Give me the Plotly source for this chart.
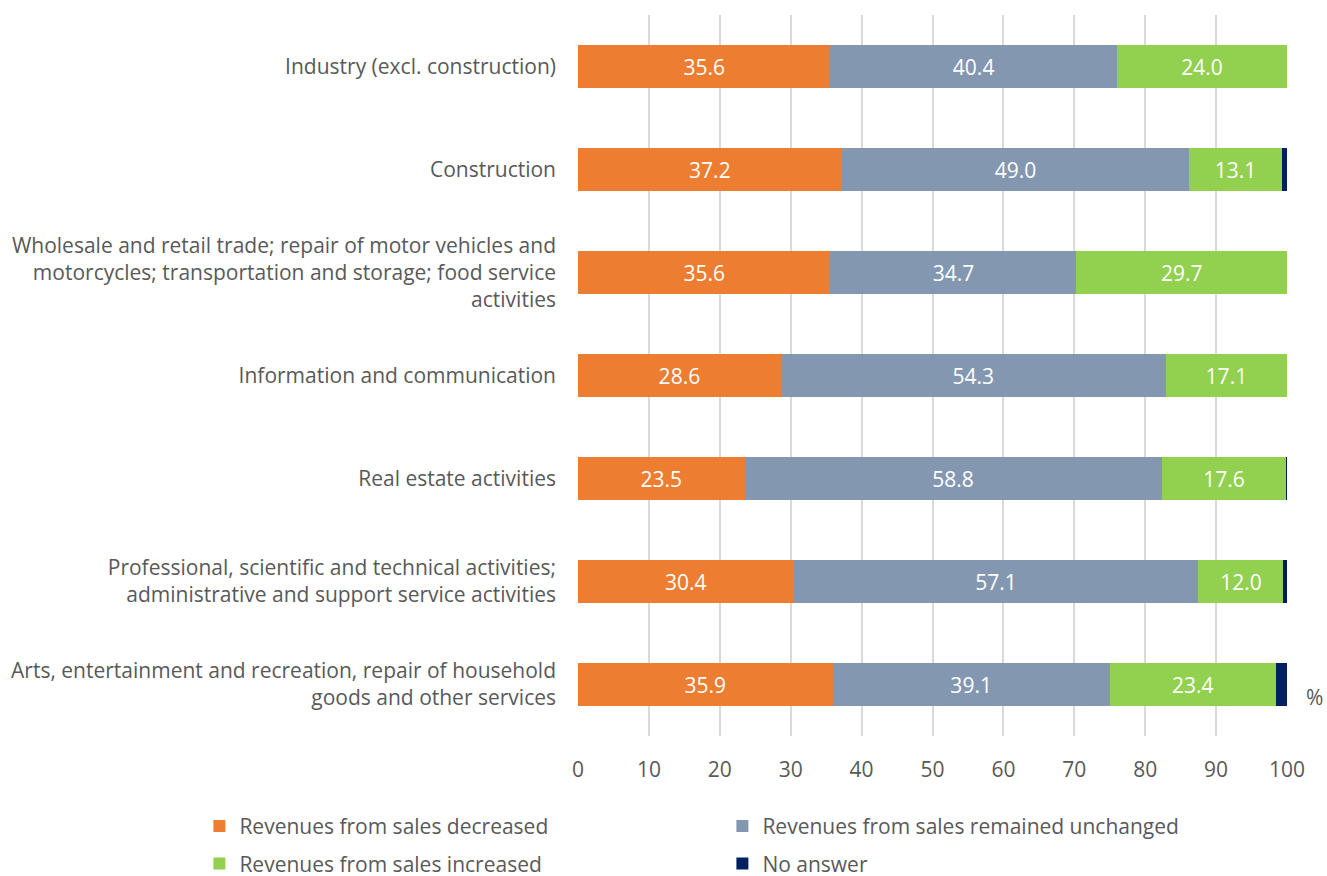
import plotly.graph_objects as go

categories = [
    "Industry (excl. construction)",
    "Construction",
    "Wholesale and retail trade; repair of motor vehicles and<br>motorcycles; transportation and storage; food service<br>activities",
    "Information and communication",
    "Real estate activities",
    "Professional, scientific and technical activities;<br>administrative and support service activities",
    "Arts, entertainment and recreation, repair of household<br>goods and other services",
]
decreased = [35.6, 37.2, 35.6, 28.6, 23.5, 30.4, 35.9]
unchanged = [40.4, 49.0, 34.7, 54.3, 58.8, 57.1, 39.1]
increased = [24.0, 13.1, 29.7, 17.1, 17.6, 12.0, 23.4]
no_answer = [0.0, 0.7, 0.0, 0.0, 0.1, 0.5, 1.6]

series = [
    ("Revenues from sales decreased", decreased, "#ED7D31", "legend", True),
    ("Revenues from sales remained unchanged", unchanged, "#8497B0", "legend", True),
    ("Revenues from sales increased", increased, "#92D050", "legend2", True),
    ("No answer", no_answer, "#002060", "legend2", False),
]

FONT = "Open Sans"
FS = 21
fig = go.Figure()
for name, vals, color, leg, show_text in series:
    fig.add_trace(go.Bar(
        y=categories, x=vals, name=name, orientation="h",
        marker=dict(color=color, line=dict(width=0)),
        width=0.41,
        text=[f"{v:.1f}" for v in vals] if show_text else None,
        textposition="inside" if show_text else "none",
        insidetextanchor="middle",
        textfont=dict(color="white", size=FS, family=FONT),
        legend=leg,
        hoverinfo="x+name",
    ))

leg_common = dict(orientation="h", x=-0.534, xanchor="left", yanchor="top",
                  entrywidth=478, entrywidthmode="pixels", traceorder="normal",
                  font=dict(size=FS, color="#595959", family=FONT), itemwidth=30)

fig.update_layout(
    barmode="stack",
    width=1327, height=876,
    margin=dict(l=578, r=40, t=15, b=140, autoexpand=False),
    paper_bgcolor="white", plot_bgcolor="white",
    font=dict(family=FONT, color="#595959", size=FS),
    bargap=0.59,
    uniformtext=dict(mode=False),
    legend=dict(**leg_common, y=-0.097),
    legend2=dict(**leg_common, y=-0.149),
    xaxis=dict(range=[0, 100], dtick=10, tick0=0, showgrid=True, gridcolor="#D9D9D9",
               gridwidth=1.5, zeroline=False, showline=False, automargin=False,
               tickfont=dict(size=FS, color="#595959", family=FONT),
               ticklabelstandoff=19, fixedrange=True),
    yaxis=dict(autorange="reversed", showgrid=False, zeroline=False, showline=False,
               automargin=False,
               tickfont=dict(size=FS, color="#595959", family=FONT),
               ticklabelstandoff=21, fixedrange=True),
    annotations=[dict(text="%", xref="paper", yref="paper", x=1.024, y=0.054,
                      xanchor="left", yanchor="middle", showarrow=False,
                      font=dict(size=FS, color="#595959", family=FONT))],
)

fig.write_html("out.html", config={"displayModeBar": False},
               post_script="document.body.style.margin='0px';")
